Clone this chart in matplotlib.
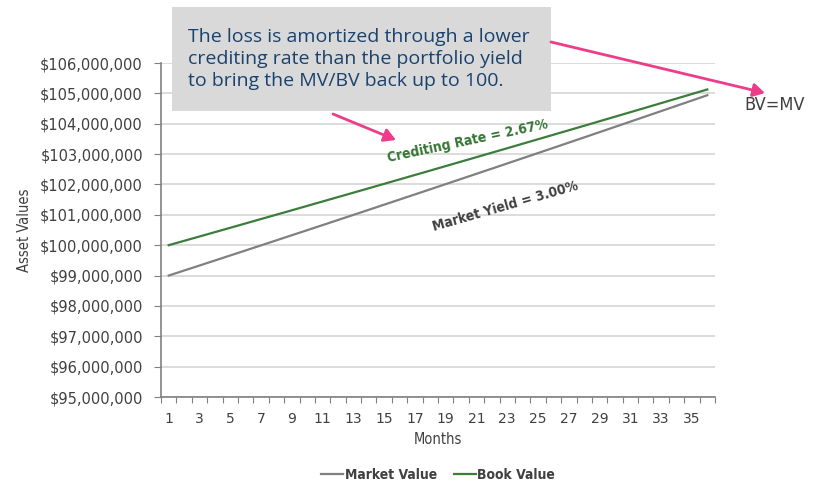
import matplotlib.pyplot as plt
import numpy as np
from matplotlib.patches import Rectangle, FancyArrowPatch

# Monthly values, in millions of dollars
months = list(range(1, 37))
market_value = [99.000, 99.165, 99.330, 99.495, 99.661, 99.827, 99.993, 100.160, 100.327,
                100.494, 100.661, 100.829, 100.997, 101.165, 101.334, 101.503, 101.672,
                101.841, 102.011, 102.181, 102.351, 102.521, 102.692, 102.863, 103.034,
                103.206, 103.378, 103.550, 103.723, 103.896, 104.069, 104.242, 104.416,
                104.590, 104.764, 104.939]
book_value = [100.000, 100.143, 100.286, 100.429, 100.573, 100.717, 100.861, 101.005,
              101.149, 101.294, 101.439, 101.584, 101.729, 101.874, 102.020, 102.166,
              102.312, 102.458, 102.605, 102.752, 102.899, 103.046, 103.193, 103.341,
              103.489, 103.637, 103.785, 103.933, 104.082, 104.231, 104.380, 104.529,
              104.679, 104.829, 104.979, 105.129]
y_ticks = list(range(95, 107))
x_labels = list(range(1, 37, 2))

GRAY = '#808080'
GREEN = '#3c7d3c'
PINK = '#ec3c8a'
NAVY = '#1a426e'
TXT = '#404040'
narrow = dict(family='DejaVu Sans', stretch='condensed')

fig = plt.figure(figsize=(8.27, 4.82), dpi=100)
ax = fig.add_axes([161 / 827, 1 - 397 / 482, (715 - 161) / 827, (397 - 63) / 482])

mv = np.array(market_value) * 1e6
bv = np.array(book_value) * 1e6
ax.plot(months, mv, color=GRAY, lw=1.6, zorder=3)
ax.plot(months, bv, color=GREEN, lw=1.6, zorder=3)

ax.set_xlim(0.5, 36.5)
ax.set_ylim(95e6, 106e6)
ax.set_yticks([v * 1e6 for v in y_ticks])
ax.set_yticklabels(['${:,.0f}'.format(v * 1e6) for v in y_ticks], fontsize=10.5, color=TXT)
ax.yaxis.grid(True, color='#d9d9d9', lw=1.3)
ax.set_axisbelow(True)

# ticks at category edges, labels on odd months
ax.set_xticks(np.arange(0.5, 37, 1))
ax.set_xticklabels([])
ax.set_xticks(x_labels, minor=True)
ax.set_xticklabels([str(m) for m in x_labels], minor=True, fontsize=10, color=TXT)
ax.tick_params(axis='x', which='minor', length=0, pad=11)
ax.tick_params(axis='x', which='major', length=4, color=GRAY)
ax.tick_params(axis='y', length=5, color=GRAY, pad=8)

for s in ['top', 'right']:
    ax.spines[s].set_visible(False)
for s in ['left', 'bottom']:
    ax.spines[s].set_color(GRAY)
    ax.spines[s].set_linewidth(1.2)

ax.set_xlabel('Months', fontsize=10.5, color=TXT, labelpad=4, **narrow)
ax.set_ylabel('Asset Values', fontsize=10.5, color=TXT, labelpad=6, **narrow)

# line labels
fig.text(468 / 827, 1 - 141 / 482, 'Crediting Rate = 2.67%', color='#357535', fontsize=10,
         fontweight='bold', rotation=12, ha='center', va='center', **narrow)
fig.text(505 / 827, 1 - 206 / 482, 'Market Yield = 3.00%', color='#404040', fontsize=10,
         fontweight='bold', rotation=16, ha='center', va='center', **narrow)

# callout box
fig.patches.append(Rectangle((172 / 827, 1 - 111 / 482), 379 / 827, 104 / 482,
                             transform=fig.transFigure, facecolor='#d9d9d9',
                             edgecolor='none', zorder=5))
fig.text(188 / 827, 1 - 59 / 482,
         'The loss is amortized through a lower\ncrediting rate than the portfolio yield\n'
         'to bring the MV/BV back up to 100.',
         color=NAVY, fontsize=14, family='Open Sans', linespacing=1.25,
         ha='left', va='center', zorder=6)

fig.text(744 / 827, 1 - 105 / 482, 'BV=MV', color='#404040', fontsize=13,
         ha='left', va='center', **narrow)

for start, end in [((551, 42), (765, 93)), ((333, 114), (396, 140))]:
    fig.patches.append(FancyArrowPatch((start[0] / 827, 1 - start[1] / 482),
                                       (end[0] / 827, 1 - end[1] / 482),
                                       transform=fig.transFigure, color=PINK, lw=2,
                                       arrowstyle='-|>,head_length=7,head_width=4',
                                       shrinkA=0, shrinkB=0, zorder=6))

ax.legend(['Market Value', 'Book Value'], loc='lower center',
          bbox_to_anchor=(438 / 827, -0.025), bbox_transform=fig.transFigure,
          ncol=2, frameon=False, handlelength=1.6, handletextpad=0.1, columnspacing=1.2,
          prop={'family': 'DejaVu Sans', 'stretch': 'condensed', 'weight': 'bold', 'size': 10},
          labelcolor='#404040')

fig.savefig('out.png', dpi=100)
